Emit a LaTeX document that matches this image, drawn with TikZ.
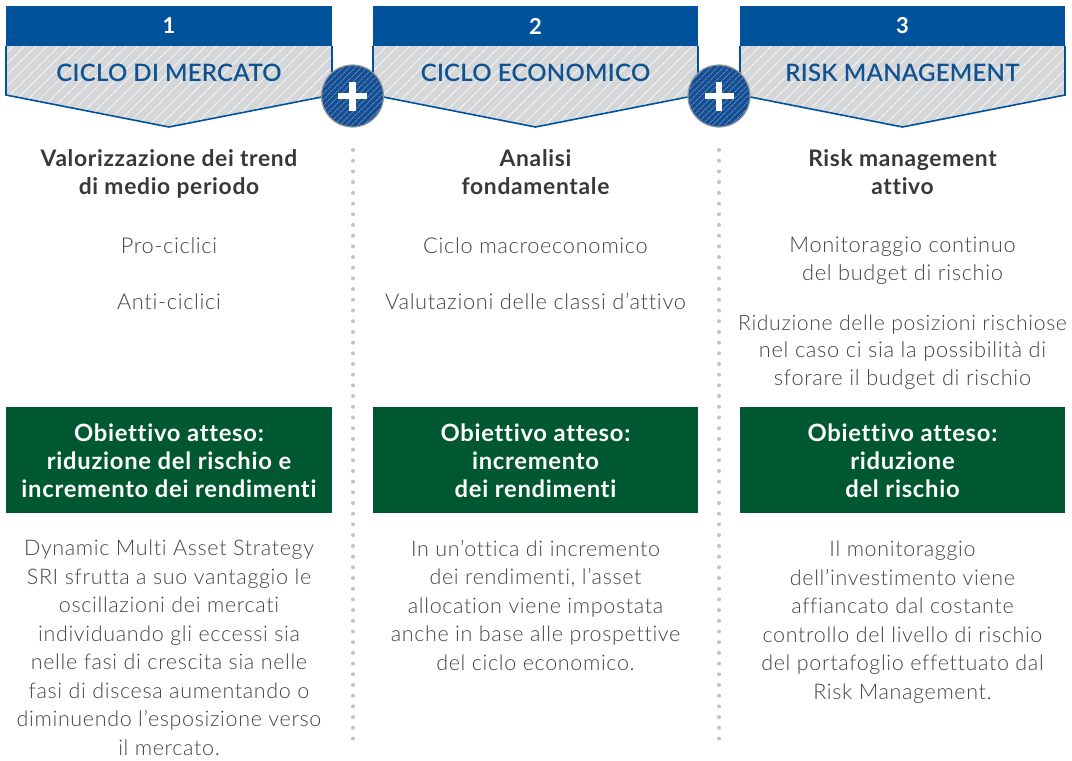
\documentclass[tikz,border=0pt]{standalone}
\usepackage{fontspec}
\IfFontExistsTF{Lato Light}{%
  \setmainfont{Lato}[UprightFont=* Light,BoldFont=* Bold,LetterSpace=3,Ligatures=NoCommon]
}{%
  \setmainfont{Lato}[LetterSpace=3,Ligatures=NoCommon]
}
\IfFontExistsTF{Lato Semibold}{%
  \newfontfamily\medfont{Lato Semibold}[LetterSpace=1,Ligatures=NoCommon]
}{%
  \newfontfamily\medfont{Lato}[LetterSpace=1,Ligatures=NoCommon]
}
\usetikzlibrary{patterns.meta}
\definecolor{hblue}{RGB}{0,82,155}
\definecolor{hgray}{RGB}{213,214,216}
\definecolor{hgreen}{RGB}{0,88,48}
\definecolor{btext}{RGB}{68,68,68}
\definecolor{htext}{RGB}{15,82,145}
\definecolor{dotgray}{RGB}{195,195,195}
\definecolor{cblue}{RGB}{18,78,145}
\definecolor{cstripe}{RGB}{95,135,185}
\begin{document}
\begin{tikzpicture}[x=1pt,y=-1pt,
  bodytxt/.style={font=\fontsize{21.8}{27.5}\selectfont,text=btext,align=center,inner sep=0pt,anchor=base},
  boldtxt/.style={font=\fontsize{22.8}{28}\selectfont\bfseries,text=black!78,align=center,inner sep=0pt,anchor=base},
  greentxt/.style={font=\fontsize{23.8}{28}\selectfont\bfseries,text=white,align=center,inner sep=0pt,anchor=base},
  numtxt/.style={font=\fontsize{22}{24}\selectfont\bfseries,text=white,inner sep=0pt},
  titletxt/.style={font=\fontsize{24}{26}\selectfont\medfont,text=htext,inner sep=0pt},
  lowtxt/.style={font=\fontsize{21.5}{28.5}\selectfont,text=btext,align=center,inner sep=0pt,anchor=base},
  sep/.style={draw=dotgray,line width=4pt,line cap=round,dash pattern=on 0pt off 10.7pt},
  plusc/.style={circle,minimum size=62pt,inner sep=0pt,fill=cblue,draw=gray!80,line width=1.2pt,
     postaction={pattern={Lines[angle=45,distance=4pt,line width=0.9pt]},pattern color=cstripe}},
]
\useasboundingbox (0,0) rectangle (1072,761);

% headers
\foreach \xl/\xr/\n/\t [count=\i] in {6/332/1/CICLO DI MERCATO,373/698/2/CICLO ECONOMICO,740/1065/3/RISK MANAGEMENT}{
  \pgfmathsetmacro{\xm}{(\xl+\xr)/2}
  \fill[hblue] (\xl,6) rectangle (\xr,46);
  \fill[hgray] (\xl,46) -- (\xr,46) -- (\xr,95) -- (\xm,127) -- (\xl,95) -- cycle;
  \fill[pattern={Lines[angle=45,distance=8pt,line width=0.7pt]},pattern color=white!85!hgray]
     (\xl,46) -- (\xr,46) -- (\xr,95) -- (\xm,127) -- (\xl,95) -- cycle;
  \draw[hblue,line width=1.6pt,line join=miter] (\xl,46) -- (\xl,95) -- (\xm,127) -- (\xr,95) -- (\xr,46);
  \node[numtxt] (num\i) at (\xm,26) {\n};
  \node[titletxt] (title\i) at (\xm,73) {\t};
  \fill[hgreen] (\xl,407) rectangle (\xr,513);
}

% plus circles
\foreach \cx [count=\i] in {352.5,719}{
  \node[plusc] (plus\i) at (\cx,96) {};
  \fill[white] ([xshift=-14.5pt,yshift=-3.3pt]plus\i.center) rectangle ([xshift=14.5pt,yshift=3.3pt]plus\i.center);
  \fill[white] ([xshift=-3.3pt,yshift=-14.5pt]plus\i.center) rectangle ([xshift=3.3pt,yshift=14.5pt]plus\i.center);
}

% separators
\coordinate (s1a) at (353,150); \coordinate (s1b) at (353,744);
\coordinate (s2a) at (719,150); \coordinate (s2b) at (719,744);
\draw[sep] (s1a) -- (s1b);
\draw[sep] (s2a) -- (s2b);

% column 1
\node[boldtxt] (h1) at (169,194) {Valorizzazione dei trend\\di medio periodo};
\node[bodytxt] (a1) at (169,253) {Pro-ciclici};
\node[bodytxt] (b1) at (169,309) {Anti-ciclici};
\node[greentxt] (g1) at (169,497) {Obiettivo atteso:\\riduzione del rischio e\\incremento dei rendimenti};
\node[lowtxt] (l1) at (169,755) {Dynamic Multi Asset Strategy\\SRI sfrutta a suo vantaggio le\\oscillazioni dei mercati\\individuando gli eccessi sia\\nelle fasi di crescita sia nelle\\fasi di discesa aumentando o\\diminuendo l’esposizione verso\\il mercato.};

% column 2
\node[boldtxt] (h2) at (535.5,194) {Analisi\\fondamentale};
\node[bodytxt] (a2) at (535.5,253) {Ciclo macroeconomico};
\node[bodytxt] (b2) at (535.5,309) {Valutazioni delle classi d’attivo};
\node[greentxt] (g2) at (535.5,497) {Obiettivo atteso:\\incremento\\dei rendimenti};
\node[lowtxt] (l2) at (535.5,670) {In un’ottica di incremento\\dei rendimenti, l’asset\\allocation viene impostata\\anche in base alle prospettive\\del ciclo economico.};

% column 3
\node[boldtxt] (h3) at (902.5,194) {Risk management\\attivo};
\node[bodytxt] (a3) at (902.5,280) {Monitoraggio continuo\\del budget di rischio};
\node[bodytxt] (b3) at (902.5,385) {\fontsize{21.2}{27.5}\selectfont Riduzione delle posizioni rischiose\\nel caso ci sia la possibilità di\\sforare il budget di rischio};
\node[greentxt] (g3) at (902.5,497) {Obiettivo atteso:\\riduzione\\del rischio};
\node[lowtxt] (l3) at (902.5,699) {Il monitoraggio\\dell’investimento viene\\affiancato dal costante\\controllo del livello di rischio\\del portafoglio effettuato dal\\Risk Management.};
\end{tikzpicture}
\end{document}
